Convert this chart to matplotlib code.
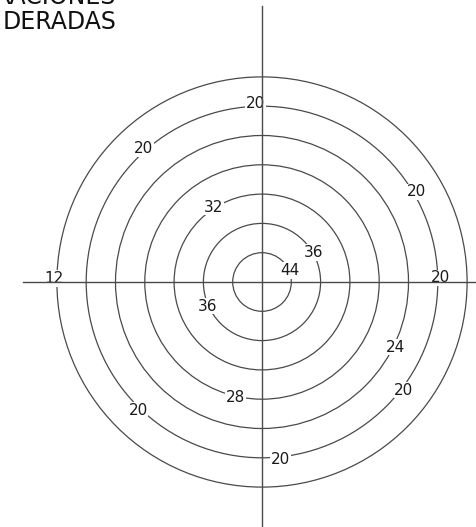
import numpy as np
import matplotlib
matplotlib.use("Agg")
import matplotlib.pyplot as plt
from matplotlib.patches import Circle

# concentric rings (radius in grid units) and the labels that sit on them
ring_radii = [1, 2, 3, 4, 5, 6, 7]
label_text = ["20", "20", "20", "32", "36", "44", "12", "20", "36", "24", "20", "28", "20", "20"]
label_ring = [6, 6, 6, 3, 2, 1, 7, 6, 2, 5, 6, 4, 6, 6]
label_angle = [92, 131.7, 30.3, 123, 29.6, 23, 179, 1.3, 204, 334, 322.7, 257, 226, 276]

title_lines = ["RACIONES", "DERADAS"]

W, H = 476, 527
cx, cy = 262, 282          # centre in pixels
scale = 29.3               # pixels per grid unit

fig = plt.figure(figsize=(W / 100, H / 100), dpi=100)
ax = fig.add_axes([0, 0, 1, 1])
ax.set_xlim(-cx / scale, (W - cx) / scale)
ax.set_ylim(-(H - cy) / scale, cy / scale)
ax.axis("off")

line_col = "#4a4a4a"
for r in ring_radii:
    ax.add_patch(Circle((0, 0), r, fill=False, ec=line_col, lw=0.9, zorder=1))

# axes cross
ax.plot([0, 0], [-(H - cy) / scale, (cy - 6) / scale], color=line_col, lw=1.0, zorder=4)
ax.plot([-(cx - 23) / scale, (W - cx) / scale], [0, 0], color=line_col, lw=1.0, zorder=4)

for txt, ring, ang in zip(label_text, label_ring, label_angle):
    a = np.deg2rad(ang)
    r = ring_radii[ring - 1] * 1.015
    ax.text(r * np.cos(a), r * np.sin(a), txt, fontsize=11, family="DejaVu Sans",
            color="#1a1a1a", ha="center", va="center", zorder=3,
            bbox=dict(boxstyle="square,pad=0.05", fc="white", ec="none"))

fig.text(-5 / W, 1 - 4 / H, title_lines[0], fontsize=17, family="DejaVu Sans",
         color="#111111", ha="left", va="baseline")
fig.text(3 / W, 1 - 29 / H, title_lines[1], fontsize=17, family="DejaVu Sans",
         color="#111111", ha="left", va="baseline")

fig.savefig("out.png", dpi=100, facecolor="white")
